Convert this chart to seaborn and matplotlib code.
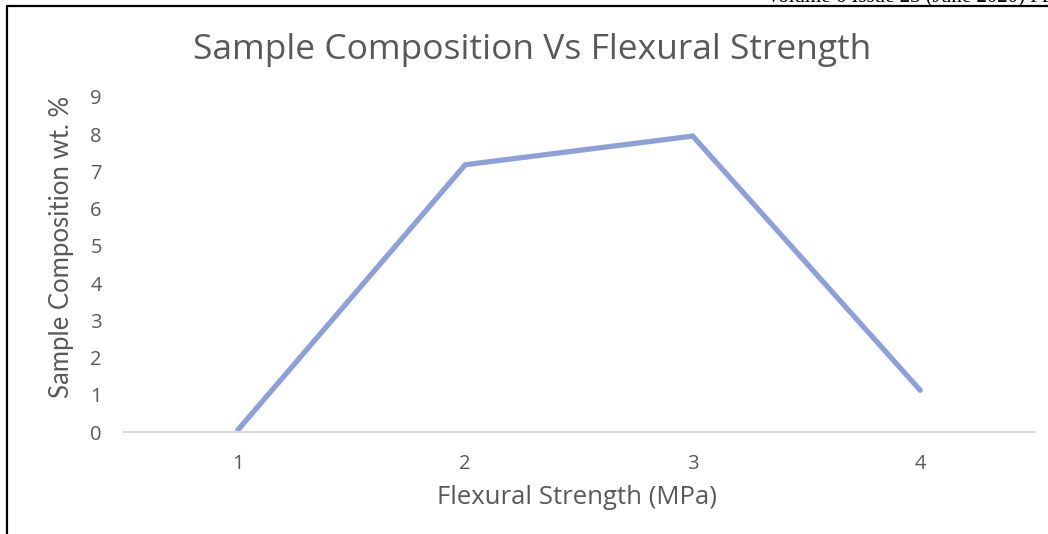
import matplotlib
matplotlib.use("Agg")
import matplotlib.pyplot as plt
import seaborn as sns
import pandas as pd
from matplotlib.lines import Line2D

strength = ["1", "2", "3", "4"]
composition = [0.05, 7.18, 7.95, 1.12]
yticks = [0, 1, 2, 3, 4, 5, 6, 7, 8, 9]

df = pd.DataFrame({"strength": strength, "composition": composition})

sns.set_theme(style="white")
plt.rcParams["font.family"] = ["Open Sans", "DejaVu Sans"]

W, H = 1048, 534
fig = plt.figure(figsize=(W / 100, H / 100), dpi=100)
ax = fig.add_axes([124 / W, (H - 432) / H, (1034 - 124) / W, (432 - 97) / H])

sns.lineplot(data=df, x="strength", y="composition", ax=ax, color="#8EA0D6",
             linewidth=3.8, sort=False, solid_capstyle="round", solid_joinstyle="miter")

ax.set_xlim(-0.5, 3.5)
ax.set_ylim(0, 9)
ax.set_yticks(yticks)
ax.set_yticklabels([str(t) for t in yticks])
for s in ["top", "right", "left"]:
    ax.spines[s].set_visible(False)
ax.spines["bottom"].set_color("#D9D9D9")
ax.spines["bottom"].set_linewidth(1.5)
ax.tick_params(axis="both", length=0, labelsize=14.5, colors="#595959")
ax.tick_params(axis="y", pad=16)
ax.tick_params(axis="x", pad=16)
ax.set_xlabel("Flexural Strength (MPa)", fontsize=18.5, color="#595959")
ax.set_ylabel("Sample Composition wt. %", fontsize=18.5, color="#595959",
              family=["Lato", "DejaVu Sans"])
ax.xaxis.set_label_coords((577 - 124) / (1034 - 124), -(497 - 432) / (432 - 97))
ax.xaxis.label.set_va("center")
ax.yaxis.set_label_coords(-(124 - 62) / (1034 - 124), (432 - 247) / (432 - 97))
ax.yaxis.label.set_va("center")

fig.text(532 / W, 1 - 50 / H, "Sample Composition Vs Flexural Strength",
         ha="center", va="center", fontsize=25.5, color="#595959")

# page frame fragments
fig.add_artist(Line2D([7 / W, 1.0], [1 - 6 / H, 1 - 6 / H], color="black", lw=1.6,
                      transform=fig.transFigure))
fig.add_artist(Line2D([7 / W, 7 / W], [0, 1 - 6 / H], color="black", lw=1.6,
                      transform=fig.transFigure))
fig.text(766 / W, 1 - 2 / H, "Volume 6 Issue 23 (June 2020) PP", ha="left", va="baseline",
         fontsize=15, color="black", family=["Liberation Serif"])

fig.savefig("out.png", dpi=100, facecolor="white")
